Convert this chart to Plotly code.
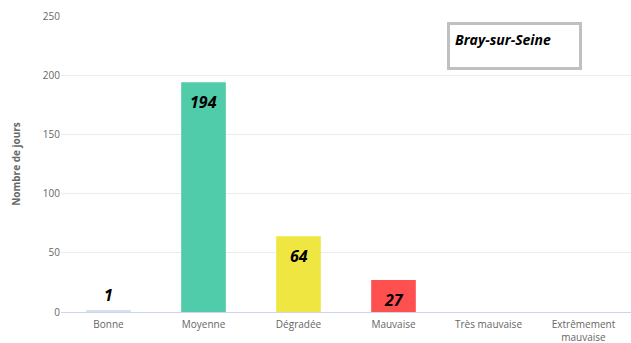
import plotly.graph_objects as go

# Air-quality index categories and number of days per category
categories = ["Bonne", "Moyenne", "Dégradée", "Mauvaise", "Très mauvaise", "Extrêmement<br>mauvaise"]
days = [1, 194, 64, 27, 0, 0]
bar_colors = ["#d8e0ef", "#50CCAA", "#F0E641", "#FF5050", "#960032", "#7D2181"]
y_ticks = [0, 50, 100, 150, 200, 250]
station = "Bray-sur-Seine"

fig = go.Figure()
fig.add_trace(go.Bar(
    x=categories,
    y=days,
    marker=dict(color=bar_colors, line=dict(width=0)),
    width=0.47,
    hoverinfo="x+y",
))

# Value labels: near the top inside the bar, or above it when the bar is too short
label_font = dict(family="Open Sans, DejaVu Sans, sans-serif", size=16, color="#000000")
for cat, val in zip(categories, days):
    if val == 0:
        continue
    shift = 16 if val < 10 else -20
    fig.add_annotation(
        x=cat, y=val, xref="x", yref="y",
        text=f"<b><i>{val}</i></b>",
        showarrow=False, yanchor="middle", yshift=shift,
        font=label_font,
    )

# Station name box
fig.add_annotation(
    xref="paper", yref="paper",
    x=(447 - 61) / 570, y=(312 - 22) / 296,
    xanchor="left", yanchor="top",
    text=f"<b><i>{station}</i></b>",
    showarrow=False,
    align="left",
    width=119, height=32,
    valign="top",
    bordercolor="#c0c0c0", borderwidth=3, borderpad=5,
    bgcolor="#ffffff",
    font=dict(family="Open Sans, DejaVu Sans, sans-serif", size=14, color="#000000"),
)

fig.update_layout(
    width=631, height=343,
    margin=dict(l=61, r=0, t=16, b=31),
    paper_bgcolor="#ffffff",
    plot_bgcolor="#ffffff",
    showlegend=False,
    font=dict(family="Open Sans, DejaVu Sans, sans-serif", color="#666666"),
)
fig.update_yaxes(
    range=[0, 250],
    tickvals=y_ticks,
    showgrid=True, gridcolor="#ececec", gridwidth=1,
    zeroline=False,
    tickfont=dict(size=10, color="#666666"),
    ticks="", ticklen=0,
    automargin=False,
    title=dict(text="<b>Nombre de jours</b>", font=dict(size=10, color="#666666"), standoff=20),
)
fig.update_xaxes(
    showline=True, linecolor="#ccd6eb", linewidth=1,
    showgrid=False,
    tickfont=dict(size=10, color="#666666"),
    ticks="",
    ticklabelstandoff=3,
    automargin=False,
)

fig.write_html("out.html")
